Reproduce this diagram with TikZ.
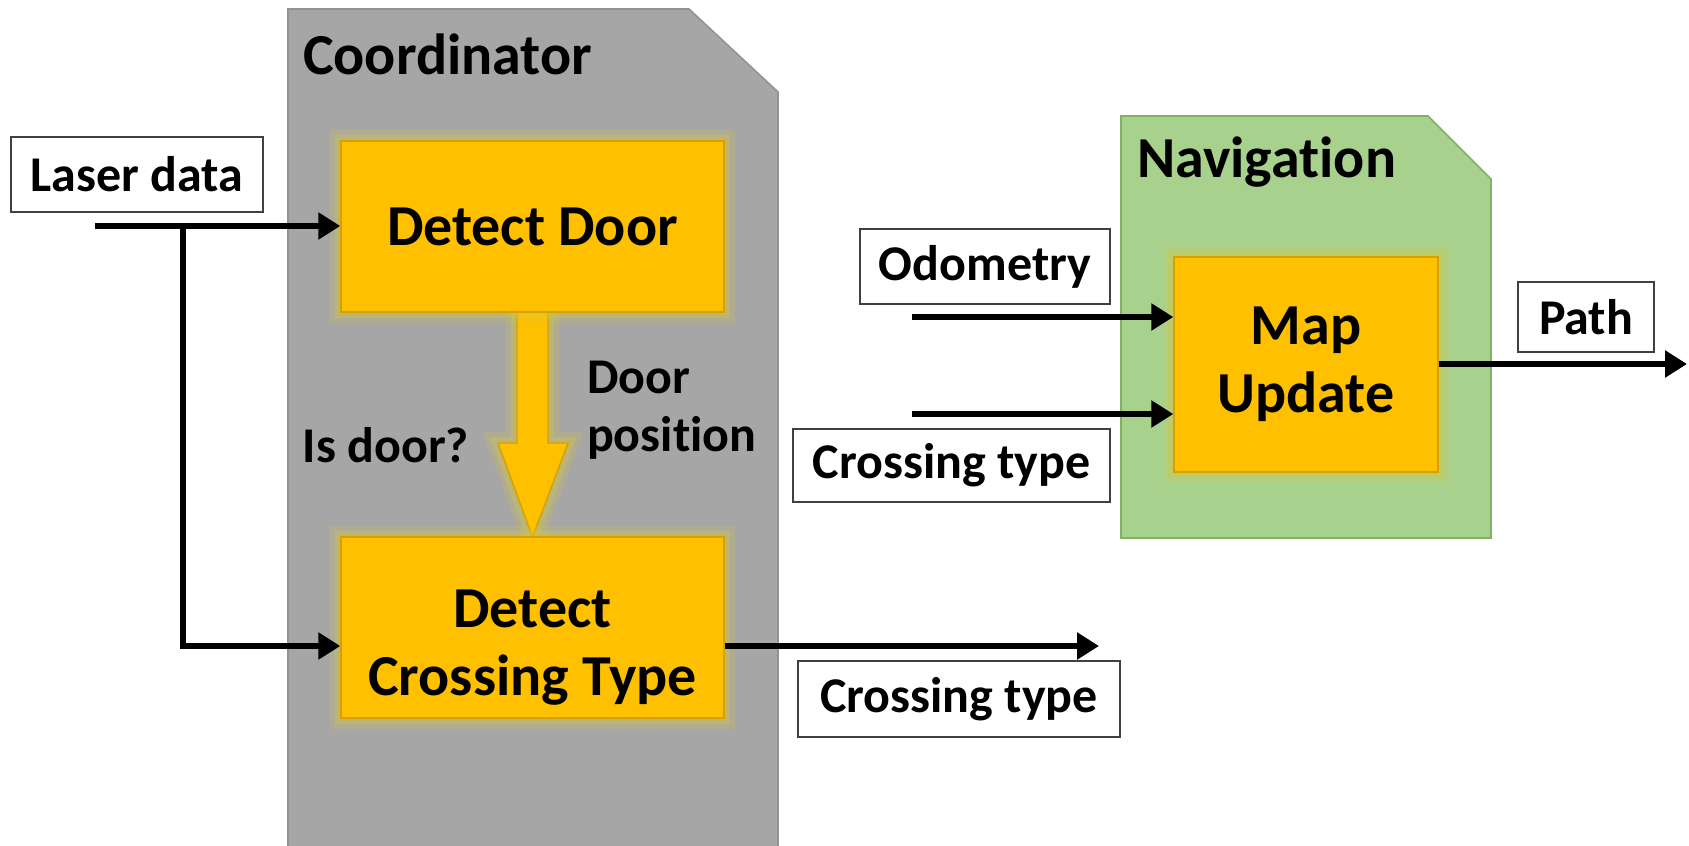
\documentclass[tikz,border=0pt]{standalone}
\usepackage{fontspec}
\setmainfont{Carlito}[Ligatures=NoCommon]
\usetikzlibrary{arrows.meta,calc}

\definecolor{boxorange}{HTML}{FFC000}
\definecolor{orangeedge}{HTML}{D6A100}
\definecolor{glowyellow}{HTML}{D8C83C}
\definecolor{panelgray}{HTML}{A6A6A6}
\definecolor{grayedge}{HTML}{939393}
\definecolor{panelgreen}{HTML}{A9D18E}
\definecolor{greenedge}{HTML}{80B25F}
\definecolor{tagedge}{HTML}{404040}

\begin{document}
\begin{tikzpicture}[x=0.5pt,y=-0.5pt,
  labeltext/.style={font=\fontsize{25}{29}\selectfont\bfseries},
  titletext/.style={font=\fontsize{29}{34}\selectfont\bfseries},
  tag/.style={draw=tagedge, line width=0.8pt, fill=white, labeltext,
    inner sep=0pt, anchor=center},
  glow/.style={preaction={draw=glowyellow, line width=11pt, opacity=0.18},
               preaction={draw=glowyellow, line width=6pt, opacity=0.35}},
  process/.style={fill=boxorange, draw=orangeedge, line width=0.7pt,
    titletext, align=center, inner sep=0pt, glow},
  flow/.style={line width=3.3pt, -{Triangle[length=11pt,width=13pt]}},
  panel/.style={line width=0.8pt}
]
\useasboundingbox (0,0) rectangle (1689,845);

% ---- container panels ----
\draw[panel, fill=panelgray, draw=grayedge]
  (288,860) -- (288,9) -- (689,9) -- (778,92) -- (778,860) -- cycle;
\node[titletext, anchor=west] (coordtitle) at (296,54) {Coordinator};

\draw[panel, fill=panelgreen, draw=greenedge]
  (1121,538) -- (1121,116) -- (1428,116) -- (1491,179) -- (1491,538) -- cycle;
\node[titletext, anchor=west] (navtitle) at (1130,162) {Navigation};

% ---- block arrow from Detect Door down to Detect Crossing Type ----
\coordinate (ddfoot) at (532.5,312);
\coordinate (dcttop) at (532.5,537);
\fill[boxorange, draw=orangeedge, line width=0.7pt, glow]
  ($(ddfoot)+(-15.5,-4)$) -- ($(ddfoot)+(-15.5,131)$) -- ($(ddfoot)+(-34.5,131)$)
  -- (dcttop) -- ($(ddfoot)+(35.5,131)$) -- ($(ddfoot)+(15.5,131)$)
  -- ($(ddfoot)+(15.5,-4)$);

% ---- process blocks ----
\node[process, minimum width=191.5pt, minimum height=85.5pt] (dd) at (532.5,226.5) {Detect Door};
\node[process, minimum width=191.5pt, minimum height=90.5pt] (dct) at (532.5,627.5) {};
\node[titletext, align=center] (dcttext) at (532.5,648) {Detect\\Crossing Type};
\node[process, minimum width=132pt, minimum height=107.5pt] (mu) at (1306,364.5) {Map\\Update};

% ---- input / output tags ----
\node[tag, minimum width=126pt, minimum height=37.5pt] (laser) at (137,174.5) {Laser data};
\node[tag, minimum width=161pt, minimum height=38pt] (ctout) at (959,699) {Crossing type};
\node[tag, minimum width=125pt, minimum height=37.5pt] (odo) at (985,266.5) {Odometry};
\node[tag, minimum width=158.5pt, minimum height=36.5pt] (ctin) at (951.5,465.5) {Crossing type};
\node[tag, minimum width=68pt, minimum height=35pt] (path) at (1586,317) {Path};

% ---- edge labels ----
\node[labeltext] (isdoor) at (386,445) {Is door?};
\node[labeltext, align=left, anchor=west] (doorpos) at (580,410) {Door\\position};

% ---- connectors ----
\coordinate (lstart) at (95,226);
\coordinate (split) at (183,226);
\coordinate (lbend) at (183,646);
\draw[flow] (lstart) -- (lstart -| dd.west);
\draw[flow] (split) -- (lbend) -- (lbend -| dct.west);

\coordinate (ctend) at (1099,646);
\draw[flow] (ctend -| dct.east) -- (ctend);

\coordinate (odostart) at (912,317);
\coordinate (ctstart) at (912,414);
\draw[flow] (odostart) -- (odostart -| mu.west);
\draw[flow] (ctstart) -- (ctstart -| mu.west);

\coordinate (pathend) at (1687,364);
\draw[flow] (pathend -| mu.east) -- (pathend);
\end{tikzpicture}
\end{document}
